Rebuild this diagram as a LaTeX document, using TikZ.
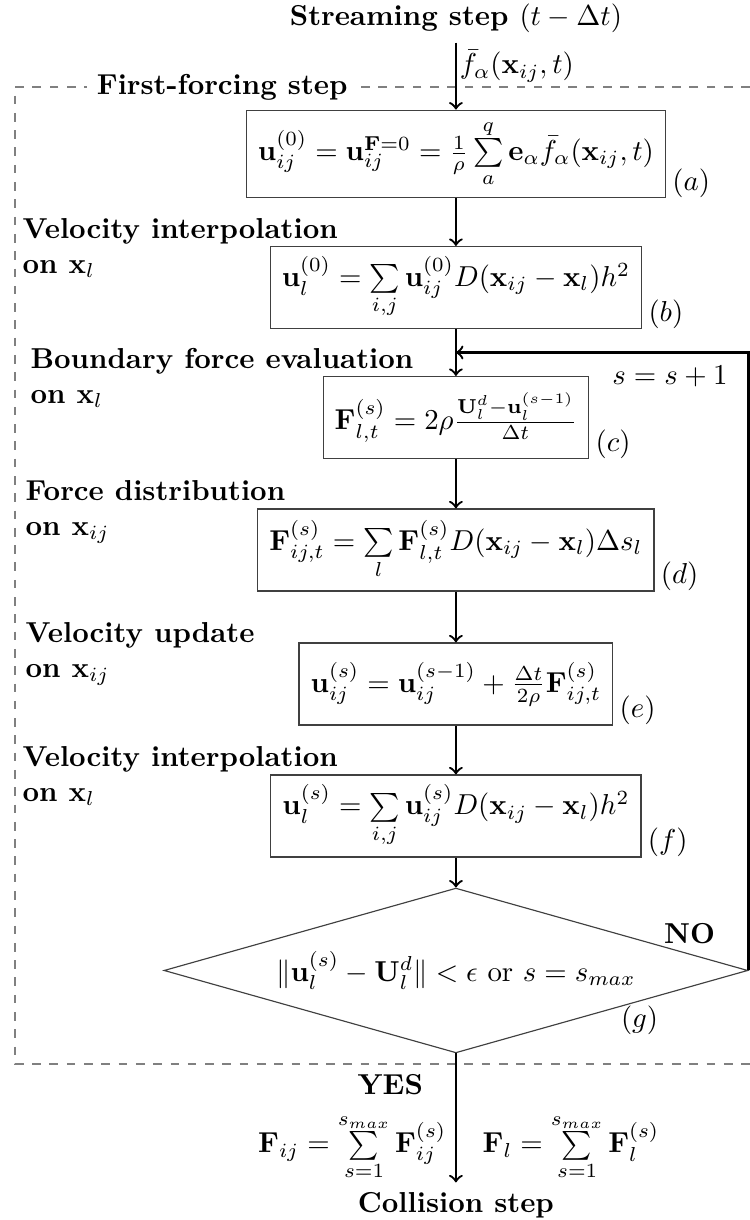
\documentclass[tikz,border=0pt]{standalone}
\usepackage{amsmath,amssymb}
\usetikzlibrary{shapes.geometric,arrows,positioning,calc}

\begin{document}
\begin{tikzpicture}[
    >=to,
    box/.style={draw=black!75, rectangle, minimum height=1cm, inner xsep=4pt},
    tag/.style={anchor=south west, inner xsep=2pt, inner ysep=0pt},
    stage/.style={anchor=north west, align=left, inner sep=0pt, font=\bfseries},
    flow/.style={->, thick}
]
    \useasboundingbox (0,0) rectangle (9.146,-14.878);

    % Frame of the first-forcing step
    \draw[gray, dashed] (9.146,-1.061) -- (0.183,-1.061) -- (0.183,-12.976) -- (9.146,-12.976);
    \node[fill=white, font=\bfseries] (ffs) at (2.71,-1.061) {First-forcing step};

    % Steps
    \node[font=\bfseries] (stream) at (5.56,-0.22) {Streaming step $(t-\Delta t)$};
    \node[box, minimum height=1.07cm] (ua) at (5.56,-1.878)
        {$\mathbf{u}_{ij}^{(0)} = \mathbf{u}_{ij}^{\mathbf{F}=0} = \frac{1}{\rho}\sum\limits_{a}^{q}\mathbf{e}_\alpha \bar{f}_\alpha(\mathbf{x}_{ij},t)$};
    \node[box] (ub) at (5.56,-3.506)
        {$\mathbf{u}_{l}^{(0)} = \sum\limits_{i,j}\mathbf{u}_{ij}^{(0)} D(\mathbf{x}_{ij}-\mathbf{x}_l)h^2$};
    \node[box] (uc) at (5.56,-5.091)
        {$\mathbf{F}_{l,t}^{(s)} = 2\rho\frac{\mathbf{U}_l^d-\mathbf{u}_l^{(s-1)}}{\Delta t}$};
    \node[box] (ud) at (5.56,-6.707)
        {$\mathbf{F}_{ij,t}^{(s)} = \sum\limits_{l}\mathbf{F}_{l,t}^{(s)} D(\mathbf{x}_{ij}-\mathbf{x}_l)\Delta s_l$};
    \node[box] (ue) at (5.56,-8.341)
        {$\mathbf{u}_{ij}^{(s)} = \mathbf{u}_{ij}^{(s-1)} + \frac{\Delta t}{2\rho}\mathbf{F}_{ij,t}^{(s)}$};
    \node[box] (uf) at (5.56,-9.951)
        {$\mathbf{u}_{l}^{(s)} = \sum\limits_{i,j}\mathbf{u}_{ij}^{(s)} D(\mathbf{x}_{ij}-\mathbf{x}_l)h^2$};
    \node[draw=black!75, diamond, aspect=3.5, minimum width=7.12cm, minimum height=2.01cm, inner sep=0pt] (check) at (5.56,-11.835)
        {$\|\mathbf{u}_l^{(s)}-\mathbf{U}_l^d\| < \epsilon$ or $s = s_{max}$};
    \node[font=\bfseries] (collide) at (5.56,-14.7) {Collision step};

    % Tags
    \node[tag] (taga) at (ua.south east) {$(a)$};
    \node[tag] (tagb) at (ub.south east) {$(b)$};
    \node[tag] (tagc) at (uc.south east) {$(c)$};
    \node[tag] (tagd) at (ud.south east) {$(d)$};
    \node[tag] (tage) at (ue.south east) {$(e)$};
    \node[tag] (tagf) at (uf.south east) {$(f)$};
    \node (tagg) at (7.80,-12.44) {$(g)$};

    % Stage names
    \node[stage] (vi1) at (0.268,-2.659) {Velocity interpolation\\on $\mathbf{x}_l$};
    \node[stage] (bfe) at (0.366,-4.244) {Boundary force evaluation\\on $\mathbf{x}_l$};
    \node[stage] (fd) at (0.305,-5.854) {Force distribution\\on $\mathbf{x}_{ij}$};
    \node[stage] (vu) at (0.305,-7.585) {Velocity update\\on $\mathbf{x}_{ij}$};
    \node[stage] (vi2) at (0.268,-9.098) {Velocity interpolation\\on $\mathbf{x}_l$};

    % Flow
    \draw[flow] (stream) -- node[pos=0.35, right, inner sep=1pt] {$\bar{f}_\alpha(\mathbf{x}_{ij},t)$} (ua);
    \draw[flow] (ua) -- (ub);
    \draw[flow] (ub) -- (uc);
    \draw[flow] (uc) -- (ud);
    \draw[flow] (ud) -- (ue);
    \draw[flow] (ue) -- (uf);
    \draw[flow] (uf) -- (check);
    \draw[flow] (check) -- (collide);

    % Loop back
    \coordinate (merge) at ($(ub.south)!0.5!(uc.north)$);
    \draw[flow] (check.east) |- (merge);
    \node (incr) at (8.17,-4.585) {$s=s+1$};
    \node[font=\bfseries] (no) at (8.41,-11.39) {NO};

    % Exit
    \node[font=\bfseries] (yes) at (4.76,-13.23) {YES};
    \node[anchor=east, inner sep=0pt] (fij) at (5.45,-13.99)
        {$\mathbf{F}_{ij} = \sum\limits_{s=1}^{s_{max}}\mathbf{F}_{ij}^{(s)}$};
    \node[anchor=west, inner sep=0pt] (fl) at (5.88,-13.99)
        {$\mathbf{F}_{l} = \sum\limits_{s=1}^{s_{max}}\mathbf{F}_{l}^{(s)}$};
\end{tikzpicture}
\end{document}
